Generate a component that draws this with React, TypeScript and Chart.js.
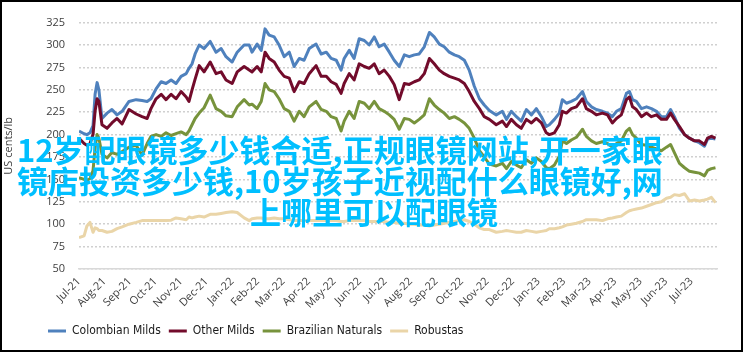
import React, { useEffect, useRef } from 'react';
import { Chart, registerables } from 'chart.js';

Chart.register(...registerables);

const monthLabels = [
  'Jul-21', 'Aug-21', 'Sep-21', 'Oct-21', 'Nov-21', 'Dec-21', 'Jan-22', 'Feb-22', 'Mar-22',
  'Apr-22', 'May-22', 'Jun-22', 'Jul-22', 'Aug-22', 'Sep-22', 'Oct-22', 'Nov-22', 'Dec-22',
  'Jan-23', 'Feb-23', 'Mar-23', 'Apr-23', 'May-23', 'Jun-23', 'Jul-23',
];

// time in months since the start of Jul-21
const months = [
  0.0, 0.2, 0.31, 0.43, 0.55, 0.63, 0.71, 0.78, 0.9, 1.1, 1.29, 1.49, 1.69, 1.96, 2.24, 2.47,
  2.67, 2.82, 3.02, 3.22, 3.41, 3.61, 3.8, 4.0, 4.2, 4.31, 4.43, 4.55, 4.71, 4.9, 5.14, 5.37,
  5.57, 5.76, 6.0, 6.2, 6.47, 6.67, 6.78, 6.98, 7.14, 7.29, 7.45, 7.65, 7.84, 8.04, 8.24, 8.43,
  8.63, 8.82, 9.02, 9.29, 9.49, 9.69, 9.88, 10.08, 10.27, 10.39, 10.59, 10.78, 10.98, 11.18,
  11.37, 11.57, 11.76, 11.96, 12.16, 12.35, 12.55, 12.75, 12.94, 13.14, 13.33, 13.53, 13.73,
  13.92, 14.12, 14.31, 14.51, 14.71, 14.9, 15.1, 15.29, 15.49, 15.69, 15.88, 16.08, 16.35,
  16.59, 16.75, 16.94, 17.14, 17.33, 17.53, 17.73, 17.92, 18.12, 18.31, 18.43, 18.63, 18.82,
  18.94, 19.1, 19.29, 19.49, 19.73, 19.88, 20.08, 20.27, 20.51, 20.71, 20.9, 21.06, 21.25,
  21.45, 21.57, 21.69, 21.84, 22.04, 22.24, 22.43, 22.63, 22.82, 23.02, 23.18, 23.33, 23.53,
  23.73, 23.92, 24.12, 24.31, 24.51, 24.63, 24.78, 24.94,
];

const colombianMilds = [
  204, 201, 200, 202, 210, 245, 258, 250, 218, 224, 228, 222, 226, 237, 239, 238,
  237, 240, 251, 259, 257, 261, 257, 265, 268, 274, 279, 290, 300, 296, 304, 292,
  296, 287, 281, 292, 300, 300, 292, 301, 294, 318, 311, 309, 300, 287, 292, 276,
  285, 283, 296, 301, 290, 292, 285, 283, 272, 285, 294, 285, 307, 305,
  300, 309, 298, 301, 292, 283, 276, 289, 287, 289, 290, 298, 314,
  309, 301, 298, 292, 289, 287, 283, 272, 254, 240, 233, 227, 222,
  226, 217, 226, 220, 215, 228, 222, 229, 220, 209, 211, 217, 224,
  239, 235, 237, 240, 248, 237, 231, 228, 226, 224, 220, 226, 229,
  246, 248, 239, 237, 229, 231, 229, 226, 220, 220, 228, 220, 207,
  200, 196, 193, 191, 187, 195, 196, 195,
];

const otherMilds = [
  196, 190, 188, 190, 200, 226, 240, 237, 211, 207, 213, 218, 212, 228, 223, 220,
  218, 229, 240, 245, 239, 245, 240, 248, 242, 237, 250, 262, 277, 270, 281, 268,
  270, 261, 257, 270, 276, 272, 270, 276, 270, 292, 285, 281, 272, 265, 263, 248,
  259, 257, 268, 277, 265, 265, 259, 256, 246, 257, 268, 261, 279, 276,
  274, 279, 268, 272, 265, 256, 239, 257, 256, 259, 261, 268, 285,
  279, 272, 268, 265, 263, 261, 257, 248, 237, 229, 220, 217, 211,
  215, 209, 217, 211, 207, 217, 213, 218, 213, 202, 200, 202, 211,
  226, 224, 229, 231, 240, 229, 226, 222, 224, 222, 213, 218, 222,
  239, 242, 231, 228, 220, 224, 220, 222, 217, 217, 224, 217, 209,
  200, 196, 193, 193, 189, 196, 198, 196,
];

const brazilianNaturals = [
  152, 150, 149, 151, 160, 185, 200, 196, 178, 174, 180, 178, 181, 186, 188, 177,
  190, 198, 200, 198, 202, 199, 201, 203, 200, 204, 211, 218, 224, 230, 244, 229,
  226, 221, 220, 231, 239, 233, 234, 229, 237, 257, 250, 248, 240, 229, 226, 215,
  226, 220, 231, 237, 228, 226, 220, 218, 204, 215, 226, 218, 237, 235,
  229, 237, 229, 226, 222, 217, 206, 218, 217, 213, 217, 222, 240,
  233, 228, 224, 218, 220, 217, 213, 207, 196, 182, 175, 167, 165,
  168, 162, 170, 166, 163, 172, 168, 174, 170, 163, 162, 166, 176,
  193, 190, 194, 197, 206, 198, 193, 190, 192, 190, 186, 190, 193,
  204, 207, 200, 196, 189, 188, 186, 184, 182, 186, 189, 180, 168,
  163, 159, 158, 157, 154, 160, 162, 163,
];

const robustas = [
  85, 87, 98, 102, 91, 96, 95, 93, 93, 91, 92, 95, 97, 100, 102, 104,
  104, 104, 104, 104, 104, 104.5, 107, 106, 105, 108, 107, 108, 109, 108, 111, 111,
  112, 113, 114, 113, 107, 104, 106, 107, 107, 106, 106, 107, 106, 106, 105, 104,
  104, 104, 104, 104, 104, 104, 104, 104, 103, 103, 104, 104, 104, 104,
  103, 103, 103, 103, 102, 102, 101, 101, 100, 100, 99, 99, 98,
  99, 100, 101, 102, 103, 104, 105, 103, 100, 96, 94, 94, 91,
  92, 93, 92, 91, 91, 93, 92, 91, 92, 93, 95, 95, 96,
  97, 99, 100, 101, 103, 105, 105, 105, 104, 106, 107, 108, 109,
  113, 115, 116, 117, 118, 120, 122, 124, 125, 129, 130, 133, 132,
  134, 126, 127, 126, 127, 128, 130, 124,
];

const seriesNames = ['Colombian Milds', 'Other Milds', 'Brazilian Naturals', 'Robustas'];
const seriesColors = ['#4f81bd', '#720b2b', '#77933c', '#ead5a8'];
const seriesValues = [colombianMilds, otherMilds, brazilianNaturals, robustas];

const overlayLines = [
  '12岁配眼镜多少钱合适,正规眼镜网站,开一家眼',
  '镜店投资多少钱,10岁孩子近视配什么眼镜好,网',
  '上哪里可以配眼镜',
];

const tickFont = { family: '"Open Sans", "DejaVu Sans", sans-serif', size: 11 };
const tickColor = '#404040';

const legendShift = {
  id: 'legendShift',
  afterLayout(chart: any) {
    if (chart.legend) {
      chart.legend.left += 38;
    }
  },
};

export default function App() {
  const canvasRef = useRef<HTMLCanvasElement | null>(null);

  useEffect(() => {
    if (!canvasRef.current) return;
    const chart = new Chart(canvasRef.current, {
      type: 'line',
      data: {
        datasets: seriesNames.map((name, s) => ({
          label: name,
          data: months.map((m, i) => ({ x: m, y: seriesValues[s][i] })),
          borderColor: seriesColors[s],
          backgroundColor: seriesColors[s],
          borderWidth: 3,
          pointRadius: 0,
          tension: 0,
          borderJoinStyle: 'round' as const,
          order: 3 - s,
        })),
      },
      options: {
        animation: false,
        responsive: true,
        maintainAspectRatio: false,
        layout: { padding: { left: 0, right: 24, top: 18.5, bottom: 3 } },
        plugins: {
          tooltip: { enabled: false },
          legend: {
            position: 'bottom',
            align: 'start',
            labels: {
              boxWidth: 18,
              boxHeight: 3,
              padding: 8,
              color: '#1a1a1a',
              font: { family: '"Liberation Sans Narrow", "DejaVu Sans Condensed", sans-serif', size: 12 },
              sort: (a: any, b: any) => a.datasetIndex - b.datasetIndex,
              generateLabels: (c: any) =>
                Chart.defaults.plugins.legend.labels.generateLabels(c).map((it: any) => ({
                  ...it,
                  lineWidth: 0,
                })),
            },
          },
        },
        scales: {
          x: {
            type: 'linear',
            min: 0,
            max: 25,
            afterBuildTicks: (scale: any) => {
              scale.ticks = monthLabels.map((_, i) => ({ value: i }));
            },
            afterFit: (scale: any) => {
              scale.height = 48;
            },
            ticks: {
              autoSkip: false,
              minRotation: 45,
              maxRotation: 45,
              padding: 6,
              font: tickFont,
              color: tickColor,
              callback: (v: any) => monthLabels[Math.round(Number(v))] ?? '',
            },
            grid: { display: false, drawTicks: false },
            border: { display: true, color: '#d9d9d9', width: 1.5 },
          },
          y: {
            min: 50,
            max: 325,
            afterFit: (scale: any) => {
              scale.width = 77;
            },
            ticks: { stepSize: 25, padding: 14, font: tickFont, color: tickColor },
            grid: { color: '#d0d0d0', lineWidth: 1.5, drawTicks: false },
            border: { display: false, dash: [2, 2] },
            title: {
              display: true,
              text: 'US cents/lb',
              font: tickFont,
              color: tickColor,
              padding: { top: 0, bottom: 0 },
            },
          },
        },
      },
      plugins: [legendShift],
    });
    return () => chart.destroy();
  }, []);

  return (
    <div
      style={{
        position: 'fixed',
        left: 0,
        top: 0,
        width: 743,
        height: 352,
        boxSizing: 'border-box',
        border: '2px solid #000',
        background: '#fff',
        overflow: 'hidden',
      }}
    >
      <div style={{ position: 'absolute', left: 0, top: 0, width: 739, height: 348 }}>
        <canvas ref={canvasRef} />
      </div>
      <div
        style={{
          position: 'absolute',
          left: 15,
          top: 131,
          color: '#00bfff',
          fontFamily: '"Noto Sans CJK SC", sans-serif',
          fontWeight: 700,
          fontSize: 31,
          lineHeight: '31px',
          whiteSpace: 'nowrap',
        }}
      >
        <div>{overlayLines[0]}</div>
        <div>{overlayLines[1]}</div>
        <div style={{ marginLeft: 233 }}>{overlayLines[2]}</div>
      </div>
    </div>
  );
}
